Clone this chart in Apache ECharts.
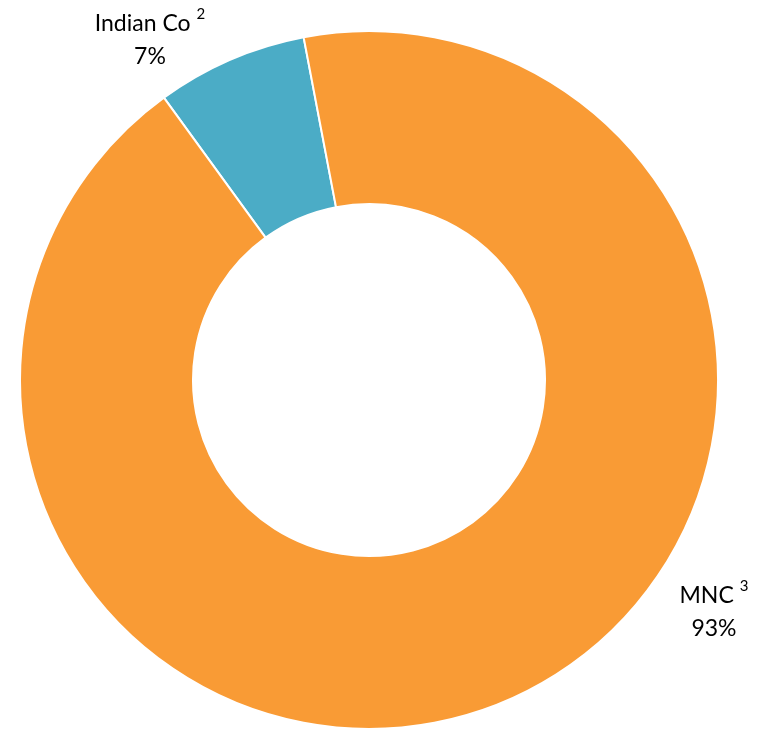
<!DOCTYPE html>
<html>
<head>
<meta charset="utf-8">
<script src="https://cdn.jsdelivr.net/npm/echarts@6/dist/echarts.min.js"></script>
<style>
  html, body { margin: 0; padding: 0; background: #fff; }
  #main { width: 757px; height: 729px; }
</style>
</head>
<body>
<div id="main"></div>
<script>
// 数据
var names = ['Indian Co', 'MNC'];
var notes = ['2', '3'];
var values = [7, 93];
var colors = ['#4bacc6', '#f99b35'];

// 标签位置 (label anchor)
var labelPos = [[150, 40], [714, 612]];

var myChart = echarts.init(document.getElementById('main'));

var data = [];
names.forEach(function (n, i) {
    data.push({ name: n, value: values[i], itemStyle: { color: colors[i] } });
});

var option = {
    animation: false,
    series: [
        {
            type: 'pie',
            center: [369, 380],
            radius: [176, 349],
            startAngle: 126,
            clockwise: true,
            data: data,
            itemStyle: { borderColor: '#fff', borderWidth: 2 },
            labelLine: { show: false },
            label: {
                show: true,
                position: 'outside',
                fontFamily: 'Lato',
                formatter: function (p) {
                    return '{n|' + p.name + '}{s|' + notes[p.dataIndex] + '}\n{n|' + Math.round(p.percent) + '%}';
                },
                rich: {
                    n: { fontFamily: 'Lato', fontSize: 23, color: '#000', lineHeight: 33 },
                    s: { fontFamily: 'Lato', fontSize: 15, color: '#000', verticalAlign: 'top', lineHeight: 16, padding: [0, 0, 0, 6] }
                }
            },
            labelLayout: function (params) {
                var p = labelPos[params.dataIndex];
                return { x: p[0], y: p[1], align: 'center', verticalAlign: 'middle' };
            }
        }
    ]
};

myChart.setOption(option);
</script>
</body>
</html>
